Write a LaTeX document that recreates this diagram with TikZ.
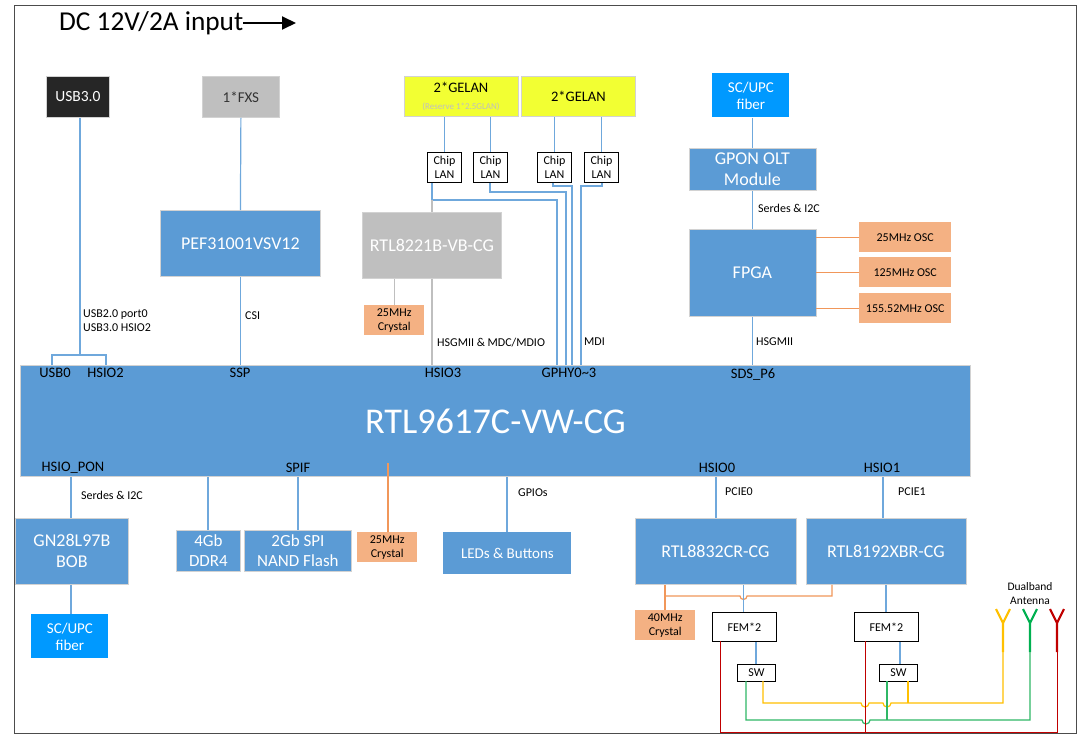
\documentclass[tikz,border=0pt]{standalone}
\usepackage{fontspec}
\setmainfont{Carlito}
\usetikzlibrary{arrows.meta}
\definecolor{blk}{HTML}{5B9BD5}
\definecolor{lin}{HTML}{6FA8DC}
\definecolor{org}{HTML}{F4B183}
\definecolor{orl}{HTML}{ED7D31}
\definecolor{gry}{HTML}{BFBFBF}
\definecolor{yel}{HTML}{F2FF33}
\definecolor{cyanb}{HTML}{0099FF}
\definecolor{ygold}{HTML}{FFC000}
\definecolor{grn}{HTML}{00B050}
\definecolor{grnl}{HTML}{2FB866}
\definecolor{rd}{HTML}{C00000}
\tikzset{x=1pt,y=-1pt,
 box/.style={draw=gry!70,line width=.8pt,fill=blk,text=white,align=center,inner sep=0pt,font=\fontsize{18}{21}\selectfont},
 small/.style={draw=black,line width=.9pt,fill=white,align=center,inner sep=0pt,font=\fontsize{12}{14}\selectfont},
 osc/.style={fill=org,align=center,inner sep=0pt,font=\fontsize{12}{14}\selectfont},
 lab/.style={inner sep=0pt,font=\fontsize{12}{14}\selectfont},
 pin/.style={inner sep=0pt,font=\fontsize{14.5}{17}\selectfont},
 wire/.style={lin,line width=1.2pt},
 gwire/.style={gry,line width=1.2pt},
 owire/.style={orl!80,line width=1.2pt},
 ywire/.style={ygold,line width=1.2pt},
 gnwire/.style={grnl,line width=1.2pt},
 rwire/.style={rd,line width=1pt}}
\newcommand{\bx}[7][box]{\node[#1,minimum width=#4pt,minimum height=#5pt,anchor=north west,#6] (#2) at (#3) {#7};}
\begin{document}
\begin{tikzpicture}
\useasboundingbox (0,0) rectangle (1084,739);
\fill[white] (0,0) rectangle (1084,739);
\draw[black!70,line width=1pt] (14,5) rectangle (1076,733);
\node[anchor=west,inner sep=0pt,font=\fontsize{27.3}{32}\selectfont] (dc) at (59,23) {DC 12V/2A input};
\coordinate (dce) at (296,23);
\draw[-{Stealth[length=14pt,width=13pt,inset=0pt]},black,line width=2pt] (dc.east) -- (dce);
% top boxes
\bx{usb}{46,76}{63}{41}{fill=black!85,font=\fontsize{15.5}{18}\selectfont}{USB3.0}
\bx{fxs}{202,76}{77}{41}{fill=gry,text=black!80,font=\fontsize{15}{18}\selectfont}{1*FXS}
\bx{gl1}{404,76}{114}{40}{fill=yel,text=black}{}
\node[inner sep=0pt,font=\fontsize{14.5}{17}\selectfont] (gt1) at (461,87) {2*GELAN};
\node[inner sep=0pt,text=gry,font=\fontsize{9}{11}\selectfont] (gt2) at (461,107) {(Reserve 1*2.5GLAN)};
\bx{gl2}{521,76}{114}{40}{fill=yel,text=black,font=\fontsize{14.5}{17}\selectfont}{2*GELAN}
\bx{sc1}{712,73}{77}{44}{fill=cyanb,draw=none,font=\fontsize{15}{17}\selectfont}{SC/UPC\\fiber}
\bx[small]{c1}{427,152}{34}{30}{}{Chip\\LAN}
\bx[small]{c2}{473,152}{34}{30}{}{Chip\\LAN}
\bx[small]{c3}{537,152}{34}{30}{}{Chip\\LAN}
\bx[small]{c4}{584,152}{34}{30}{}{Chip\\LAN}
\bx{gpon}{688.5,148}{127}{42}{}{GPON OLT\\Module}
\bx{pef}{160,210}{160}{66}{}{PEF31001VSV12}
\bx{phy}{362,212}{139}{66}{fill=gry}{RTL8221B-VB-CG}
\bx{fpga}{688.5,229}{127}{87}{}{FPGA}
\bx[osc]{x1}{364,305}{60}{30}{}{25MHz\\Crystal}
\bx[osc]{o1}{859,222}{92}{30}{}{25MHz OSC}
\bx[osc]{o2}{859,257}{92}{30}{}{125MHz OSC}
\bx[osc]{o3}{859,293}{92}{30}{}{155.52MHz OSC}
\bx{main}{20,365}{950}{111}{font=\fontsize{36.3}{40}\selectfont}{RTL9617C-VW-CG}
% bottom boxes
\bx{gn}{15,518}{113}{66}{}{GN28L97B\\BOB}
\bx{sc2}{31,614}{77}{44}{fill=cyanb,draw=none,font=\fontsize{15}{17}\selectfont}{SC/UPC\\fiber}
\bx{ddr}{176,530}{64}{41}{font=\fontsize{17}{20}\selectfont}{4Gb\\DDR4}
\bx{nand}{244,530}{107}{41}{font=\fontsize{17}{20}\selectfont}{2Gb SPI\\NAND Flash}
\bx[osc]{x2}{357,532}{60}{30}{}{25MHz\\Crystal}
\bx{led}{443,532}{128}{42}{font=\fontsize{15}{18}\selectfont,draw=none}{LEDs \& Buttons}
\bx{r1}{634.5,518}{161}{66}{}{RTL8832CR-CG}
\bx{r2}{805.5,518}{160}{66}{}{RTL8192XBR-CG}
\bx[osc]{x3}{635,610}{60}{30}{}{40MHz\\Crystal}
\bx[small]{f1}{712,612}{64}{29}{}{FEM*2}
\bx[small]{f2}{854,612}{64}{29}{}{FEM*2}
\bx[small]{s1}{737,664}{38}{17}{}{SW}
\bx[small]{s2}{879,664}{38}{17}{}{SW}
% pins
\foreach \n/\t/\p in {pa/USB0/55,pb/HSIO2/105.5,pc/SSP/240,pd/HSIO3/443,pe/GPHY0\textasciitilde3/569}
 \node[pin,text=black] (\n) at (\p,373) {\t};
\node[pin,text=black] (pf) at (753,375) {SDS\_P6};
\foreach \n/\t/\p in {qa/HSIO\_PON/73,qb/SPIF/298,qc/HSIO0/717,qd/HSIO1/882}
 \node[pin,text=black] (\n) at (\p,468) {\t};
% wires
\coordinate (j0) at (80,355);
\coordinate (ja) at (52,355); \coordinate (jb) at (106,355);
\draw[wire] (usb.south -| j0) -- (j0);
\draw[wire] (ja |- main.north) -- (ja) -- (jb) -- (jb |- main.north);
\draw[wire] (fxs.south) -- (pef.north);
\draw[wire] (pef.south) -- (pef.south |- main.north);
\draw[wire] (gl1.south -| c1.north) -- (c1.north);
\draw[wire] (gl1.south -| c2.north) -- (c2.north);
\draw[wire] (gl2.south -| c3.north) -- (c3.north);
\draw[wire] (gl2.south -| c4.north) -- (c4.north);
\coordinate (t1) at (432,200); \coordinate (t1b) at (557,200);
\coordinate (t2) at (490,192); \coordinate (t2b) at (566,192);
\coordinate (t3) at (553,186); \coordinate (t3b) at (572,186);
\coordinate (t4) at (602,186); \coordinate (t4b) at (581,186);
\draw[wire] (t1 |- c1.south) -- (t1) -- (t1b) -- (t1b |- main.north);
\draw[wire] (t2 |- c2.south) -- (t2) -- (t2b) -- (t2b |- main.north);
\draw[wire] (t3 |- c3.south) -- (t3) -- (t3b) -- (t3b |- main.north);
\draw[wire] (t4 |- c4.south) -- (t4) -- (t4b) -- (t4b |- main.north);
\draw[gwire] (t1) -- (t1 |- phy.north);
\draw[gwire] (t1 |- phy.south) -- (t1 |- main.north);
\draw[gwire] (x1.north) -- (x1.north |- phy.south);
\draw[wire] (sc1.south -| gpon.north) -- (gpon.north);
\draw[wire] (gpon.south) -- (fpga.north);
\draw[wire] (fpga.south) -- (fpga.south |- main.north);
\draw[owire] (o1.west) -- (o1.west -| fpga.east);
\draw[owire] (o2.west) -- (o2.west -| fpga.east);
\draw[owire] (o3.west) -- (o3.west -| fpga.east);
\coordinate (xa) at (71,0); \coordinate (xb) at (208,0); \coordinate (xc) at (298,0);
\coordinate (xd) at (388,0); \coordinate (xe) at (507,0); \coordinate (xf) at (716,0); \coordinate (xg) at (883,0);
\draw[wire] (gn.north -| xa) -- (main.south -| xa);
\draw[wire] (gn.south -| xa) -- (sc2.north -| xa);
\draw[wire] (ddr.north -| xb) -- (main.south -| xb);
\draw[wire] (nand.north -| xc) -- (main.south -| xc);
\draw[owire] (x2.north -| xd) -- (xd |- qb.north);
\draw[wire] (led.north -| xe) -- (main.south -| xe);
\draw[wire] (r1.north -| xf) -- (main.south -| xf);
\draw[wire] (r2.north -| xg) -- (main.south -| xg);
% crystal line with bridge
\coordinate (oa) at (665,596); \coordinate (ob) at (832,596);
\draw[owire] (r1.south -| oa) -- (x3.north -| oa);
\draw[owire] (oa) -- (740,596) arc[start angle=180,end angle=0,radius=3.5] -- (ob) -- (ob |- r2.south);
\coordinate (xh) at (743.5,0); \coordinate (xi) at (886,0); \coordinate (xj) at (756,0); \coordinate (xk) at (900,0);
\draw[wire] (r1.south -| xh) -- (f1.north -| xh);
\draw[wire] (r2.south -| xi) -- (f2.north -| xi);
\draw[wire] (f1.south -| xj) -- (s1.north -| xj);
\draw[wire] (f2.south -| xk) -- (s2.north -| xk);
% antennas
\coordinate (ay) at (1003,652); \coordinate (ag) at (1030,652); \coordinate (ar) at (1057,652);
\foreach \c/\cc in {ay/ygold,ag/grn,ar/rd}{
 \draw[\cc,line width=2.2pt] (\c) -- ++(0,-29) -- ++(-7,-14);
 \draw[\cc,line width=2.2pt] (\c) ++(0,-29) -- ++(7,-14);
}
\node[lab,align=center,font=\fontsize{11.5}{14}\selectfont] (dual) at (1030,594) {Dualband\\Antenna};
% radio wires
\draw[ywire] (763,681) -- (763,703) -- (861,703) arc[start angle=180,end angle=0,radius=4] -- (883,703) arc[start angle=180,end angle=0,radius=4] -- (1003,703) -- (ay);
\draw[ywire] (908,681) -- (908,703);
\draw[gnwire] (746,681) -- (746,720) -- (862,720) arc[start angle=180,end angle=0,radius=4] -- (1030,720) -- (ag);
\draw[gnwire] (887,681) -- (887,720);
\draw[rwire] (720,641) -- (720,732) -- (1057,732) -- (ar);
\draw[rwire] (865,641) -- (865,732);
% labels
\node[lab,anchor=west,align=left] (l1) at (83,321) {USB2.0 port0\\USB3.0 HSIO2};
\node[lab,anchor=west] (l2) at (245,316) {CSI};
\node[lab,anchor=west] (l3) at (437,343) {HSGMII \& MDC/MDIO};
\node[lab,anchor=west] (l4) at (584,342) {MDI};
\node[lab,anchor=west] (l5) at (758,208) {Serdes \& I2C};
\node[lab,anchor=west] (l6) at (756,342) {HSGMII};
\node[lab,anchor=west] (l7) at (81,495) {Serdes \& I2C};
\node[lab,anchor=west] (l8) at (518,493) {GPIOs};
\node[lab,anchor=west] (l9) at (725,492) {PCIE0};
\node[lab,anchor=west] (l10) at (898,492) {PCIE1};
\end{tikzpicture}
\end{document}
